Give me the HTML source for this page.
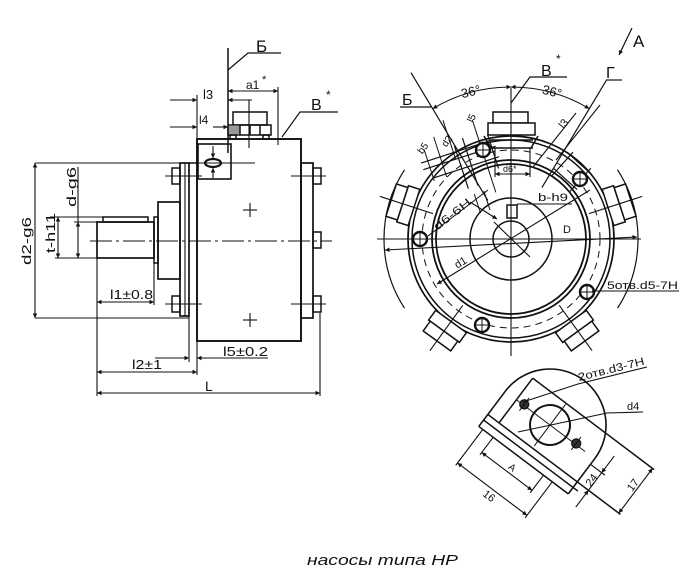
<!DOCTYPE html>
<html><head><meta charset="utf-8">
<style>
html,body{margin:0;padding:0;background:#fff;}
svg{display:block;}
text{font-family:"Liberation Sans","DejaVu Sans",sans-serif;fill:#111;stroke:none;}
</style></head><body>
<svg width="700" height="573" viewBox="0 0 700 573" xmlns="http://www.w3.org/2000/svg">
<defs>
<marker id="ar" viewBox="0 0 10 10" refX="10" refY="5" markerUnits="userSpaceOnUse" markerWidth="9" markerHeight="4.5" orient="auto-start-reverse"><path d="M0,0L10,5L0,10z" fill="#111"/></marker>
</defs>
<rect width="700" height="573" fill="#fff"/>

<!-- ================= LEFT VIEW ================= -->
<g fill="none" stroke="#111" stroke-width="1.5">
  <rect x="197" y="139" width="104" height="202" stroke-width="1.9"/>
  <rect x="198" y="144" width="33" height="35" stroke-width="1.6" fill="#fff"/>
  <ellipse cx="213" cy="163" rx="8" ry="4" stroke-width="2.2"/>
  <line x1="213" y1="146" x2="213" y2="158" stroke-width="1.1" marker-end="url(#ar)"/>
  <line x1="213" y1="178" x2="213" y2="168" stroke-width="1.1" marker-end="url(#ar)"/>
  <line x1="35" y1="163" x2="255" y2="163" stroke-width="1.1"/>
  <rect x="233" y="112" width="34" height="13"/>
  <rect x="228" y="125" width="43" height="10"/>
  <rect x="228.5" y="125.5" width="11" height="9" fill="#999" stroke="none"/>
  <line x1="240" y1="125" x2="240" y2="135"/>
  <line x1="250" y1="125" x2="250" y2="135"/>
  <line x1="260" y1="125" x2="260" y2="135"/>
  <rect x="230" y="135" width="6" height="4"/>
  <rect x="263" y="135" width="6" height="4"/>
  <line x1="249" y1="100" x2="249" y2="148" stroke-width="1.1"/>
  <line x1="228" y1="48" x2="228" y2="153"/>
  <polyline points="228,70 248,53 281,53" stroke-width="1.2"/>
  <line x1="278" y1="87" x2="278" y2="145" stroke-width="1.1"/>
  <line x1="228" y1="91" x2="278" y2="91" stroke-width="1.1" marker-start="url(#ar)" marker-end="url(#ar)"/>
  <polyline points="282,137 300,112 338,112" stroke-width="1.2"/>
  <line x1="197" y1="95" x2="197" y2="144" stroke-width="1.1"/>
  <line x1="170" y1="100" x2="197" y2="100" stroke-width="1.1" marker-end="url(#ar)"/>
  <line x1="252" y1="100" x2="228" y2="100" stroke-width="1.1" marker-end="url(#ar)"/>
  <line x1="170" y1="127" x2="197" y2="127" stroke-width="1.1" marker-end="url(#ar)"/>
  <line x1="213" y1="127" x2="228" y2="127" stroke-width="1.1" marker-end="url(#ar)"/>
  <rect x="180" y="163" width="9" height="153" stroke-width="1.7"/>
  <line x1="185" y1="163" x2="185" y2="316" stroke-width="1.1"/>
  <line x1="189" y1="163" x2="197" y2="163"/>
  <line x1="189" y1="316" x2="189" y2="362" stroke-width="1.1"/>
  <line x1="197" y1="341" x2="197" y2="375" stroke-width="1.1"/>
  <rect x="301" y="163" width="12" height="155" stroke-width="1.7"/>
  <rect x="313" y="168" width="8" height="16"/>
  <rect x="313" y="232" width="8" height="16"/>
  <rect x="313" y="296" width="8" height="16"/>
  <rect x="172" y="168" width="8" height="16"/>
  <rect x="172" y="296" width="8" height="16"/>
  <g stroke-width="1.1">
    <line x1="165" y1="176" x2="202" y2="176"/>
    <line x1="165" y1="304" x2="202" y2="304"/>
    <line x1="291" y1="176" x2="326" y2="176"/>
    <line x1="291" y1="304" x2="326" y2="304"/>
    <line x1="243" y1="210" x2="257" y2="210"/><line x1="250" y1="203" x2="250" y2="217"/>
    <line x1="243" y1="320" x2="257" y2="320"/><line x1="250" y1="313" x2="250" y2="327"/>
  </g>
  <rect x="158" y="202" width="22" height="77" stroke-width="1.7"/>
  <rect x="154" y="217" width="4" height="46"/>
  <rect x="97" y="222" width="57" height="36" stroke-width="1.7"/>
  <rect x="103" y="217" width="45" height="5"/>
  <line x1="90" y1="241" x2="332" y2="241" stroke-width="1.1" stroke-dasharray="22 4 3 4"/>
  <g stroke-width="1.1">
    <line x1="35" y1="318" x2="189" y2="318"/>
    <line x1="35" y1="163" x2="35" y2="318" marker-start="url(#ar)" marker-end="url(#ar)"/>
    <line x1="50" y1="217" x2="103" y2="217"/>
    <line x1="55" y1="258" x2="97" y2="258"/>
    <line x1="58" y1="217" x2="58" y2="258" marker-start="url(#ar)" marker-end="url(#ar)"/>
    <line x1="74" y1="222" x2="97" y2="222"/>
    <line x1="78" y1="167" x2="78" y2="222"/>
    <line x1="78" y1="222" x2="78" y2="258" marker-start="url(#ar)" marker-end="url(#ar)"/>
    <line x1="97" y1="258" x2="97" y2="396"/>
    <line x1="154" y1="263" x2="154" y2="305"/>
    <line x1="320" y1="313" x2="320" y2="396"/>
    <line x1="97" y1="302" x2="154" y2="302" marker-start="url(#ar)" marker-end="url(#ar)"/>
    <line x1="155" y1="358" x2="189" y2="358" marker-end="url(#ar)"/>
    <line x1="268" y1="358" x2="197" y2="358" marker-end="url(#ar)"/>
    <line x1="97" y1="372" x2="197" y2="372" marker-start="url(#ar)" marker-end="url(#ar)"/>
    <line x1="97" y1="393" x2="320" y2="393" marker-start="url(#ar)" marker-end="url(#ar)"/>
  </g>
</g>
<text x="256" y="52" font-size="17">Б</text>
<text x="246" y="89" font-size="12">a1</text>
<text x="262" y="83" font-size="11">*</text>
<text x="311" y="110" font-size="16">В</text>
<text x="326" y="99" font-size="12">*</text>
<text x="203" y="99" font-size="13">l3</text>
<text x="199" y="124" font-size="12">l4</text>
<text x="31" y="241" font-size="13" text-anchor="middle" textLength="48" lengthAdjust="spacingAndGlyphs" transform="rotate(-90 31 241)">d2-g6</text>
<text x="55" y="233" font-size="13" text-anchor="middle" textLength="40" lengthAdjust="spacingAndGlyphs" transform="rotate(-90 55 233)">t-h11</text>
<text x="76" y="187" font-size="13" text-anchor="middle" textLength="40" lengthAdjust="spacingAndGlyphs" transform="rotate(-90 76 187)">d-g6</text>
<text x="110" y="299" font-size="13" textLength="43" lengthAdjust="spacingAndGlyphs">l1±0.8</text>
<text x="223" y="356" font-size="13" textLength="45" lengthAdjust="spacingAndGlyphs">l5±0.2</text>
<text x="132" y="369" font-size="13" textLength="30" lengthAdjust="spacingAndGlyphs">l2±1</text>
<text x="205" y="391" font-size="14">L</text>

<!-- ================= RIGHT (FRONT) VIEW ================= -->
<g fill="none" stroke="#111" stroke-width="1.5">
  <circle cx="511" cy="239" r="18"/>
  <circle cx="511" cy="239" r="41"/>
  <circle cx="511" cy="239" r="75" stroke-width="1.8"/>
  <circle cx="511" cy="239" r="79" stroke-width="1.8"/>
  <circle cx="511" cy="239" r="89" stroke-width="1" stroke-dasharray="7 5"/>
  <circle cx="511" cy="239" r="99"/>
  <circle cx="511" cy="239" r="103" stroke-width="1.7"/>
  <path d="M404.5,169.8 A127,127 0 0 0 404.5,308.2" stroke-width="1.2"/>
  <path d="M617.5,169.8 A127,127 0 0 1 617.5,308.2" stroke-width="1.2"/>

  <g transform="rotate(72 511 239)">
    <rect x="492" y="125" width="38" height="12" fill="#fff"/>
    <rect x="494" y="113" width="34" height="12" fill="#fff"/>
    <line x1="511" y1="101" x2="511" y2="157" stroke-width="1.1"/>
  </g>
  <g transform="rotate(-72 511 239)">
    <rect x="492" y="125" width="38" height="12" fill="#fff"/>
    <rect x="494" y="113" width="34" height="12" fill="#fff"/>
    <line x1="511" y1="101" x2="511" y2="157" stroke-width="1.1"/>
  </g>
  <g transform="rotate(144 511 239)">
    <rect x="492" y="125" width="38" height="12" fill="#fff"/>
    <rect x="494" y="113" width="34" height="12" fill="#fff"/>
    <line x1="511" y1="101" x2="511" y2="157" stroke-width="1.1"/>
  </g>
  <g transform="rotate(-144 511 239)">
    <rect x="492" y="125" width="38" height="12" fill="#fff"/>
    <rect x="494" y="113" width="34" height="12" fill="#fff"/>
    <line x1="511" y1="101" x2="511" y2="157" stroke-width="1.1"/>
  </g>

  <rect x="493" y="112" width="35" height="11" fill="#fff"/>
  <rect x="488" y="123" width="47" height="12" fill="#fff"/>
  <line x1="490" y1="140" x2="533" y2="140"/>
  <line x1="490" y1="148" x2="533" y2="148"/>
  <line x1="484" y1="136" x2="491" y2="148"/>
  <line x1="538" y1="136" x2="531" y2="148"/>
  <line x1="495" y1="148" x2="495" y2="177" stroke-width="1.1"/>
  <line x1="530" y1="148" x2="530" y2="177" stroke-width="1.1"/>
  <line x1="495" y1="174" x2="530" y2="174" stroke-width="1" marker-start="url(#ar)" marker-end="url(#ar)"/>

  <line x1="511" y1="88" x2="511" y2="356" stroke-width="1.1"/>
  <line x1="377" y1="239" x2="641" y2="239" stroke-width="1.1"/>

  <rect x="507" y="205" width="10" height="13"/>
  <line x1="437" y1="284" x2="590" y2="190" stroke-width="1.1" marker-start="url(#ar)"/>
  <line x1="494" y1="222" x2="530" y2="257" stroke-width="1.1"/>
  <line x1="517" y1="204" x2="572" y2="204" stroke-width="1.1"/>
  <line x1="385" y1="250" x2="637" y2="237" stroke-width="1.1" marker-start="url(#ar)" marker-end="url(#ar)"/>
  <line x1="428" y1="236" x2="488" y2="190" stroke-width="1.1"/>
  <line x1="470" y1="202" x2="497" y2="219" stroke-width="1.1" marker-end="url(#ar)"/>

  <g transform="rotate(-18 511 239)" stroke-width="1.2">
    <line x1="449" y1="139" x2="525" y2="139"/>
    <line x1="449" y1="146" x2="525" y2="146"/>
    <line x1="455" y1="157" x2="525" y2="157"/>
    <line x1="496" y1="128" x2="496" y2="178"/>
    <line x1="486" y1="133" x2="486" y2="178"/>
    <line x1="521" y1="132" x2="521" y2="168"/>
    <line x1="511" y1="114" x2="511" y2="190" stroke-width="1"/>
    <line x1="456" y1="127" x2="456" y2="160" stroke-width="1"/>
    <line x1="469" y1="118" x2="469" y2="160" stroke-width="1"/>
    <line x1="483" y1="105" x2="483" y2="146" stroke-width="1"/>
    <line x1="490" y1="185" x2="490" y2="205" stroke-width="1"/>
    <line x1="500" y1="185" x2="500" y2="205" stroke-width="1"/>
  </g>
  <g transform="rotate(42 511 239)" stroke-width="1.2">
    <line x1="499" y1="133" x2="499" y2="164"/>
    <line x1="523" y1="133" x2="523" y2="164"/>
    <line x1="495" y1="137" x2="527" y2="137"/>
    <line x1="495" y1="158" x2="527" y2="158"/>
  </g>
  <line x1="533" y1="167" x2="576" y2="113" stroke-width="1.1"/>
  <line x1="556" y1="160" x2="600" y2="105" stroke-width="1.1"/>

  <g stroke-width="2.4" fill="#fff">
    <circle cx="420" cy="239" r="7"/>
    <circle cx="483" cy="150" r="7"/>
    <circle cx="580" cy="179" r="7"/>
    <circle cx="587" cy="292" r="7"/>
    <circle cx="482" cy="325" r="7"/>
  </g>
  <g stroke-width="1">
    <line x1="414" y1="239" x2="426" y2="239"/><line x1="420" y1="233" x2="420" y2="245"/>
    <line x1="477" y1="150" x2="489" y2="150"/><line x1="483" y1="144" x2="483" y2="156"/>
    <line x1="574" y1="179" x2="586" y2="179"/><line x1="580" y1="173" x2="580" y2="185"/>
    <line x1="581" y1="292" x2="593" y2="292"/><line x1="587" y1="286" x2="587" y2="298"/>
    <line x1="476" y1="325" x2="488" y2="325"/><line x1="482" y1="319" x2="482" y2="331"/>
  </g>
  <line x1="592" y1="291" x2="679" y2="291" stroke-width="1.1"/>

  <line x1="487.8" y1="200.4" x2="411" y2="72.7" stroke-width="1.2"/>
  <line x1="400" y1="107" x2="431" y2="107" stroke-width="1.2"/>
  <line x1="541.9" y1="187.6" x2="606.3" y2="80.4" stroke-width="1.2"/>
  <line x1="606" y1="80" x2="622" y2="80" stroke-width="1.2"/>
  <line x1="632" y1="28" x2="619" y2="55" stroke-width="1.2" marker-end="url(#ar)"/>
  <path d="M432.7,108.7 A152,152 0 0 1 511,87" stroke-width="1.1" marker-start="url(#ar)" marker-end="url(#ar)"/>
  <path d="M511,87 A152,152 0 0 1 589.3,108.7" stroke-width="1.1" marker-start="url(#ar)" marker-end="url(#ar)"/>
  <polyline points="511,103 530,77 567,77" stroke-width="1.2"/>
</g>
<text x="402" y="105" font-size="16">Б</text>
<text x="606" y="78" font-size="16">Г</text>
<text x="633" y="47" font-size="17">A</text>
<text x="541" y="76" font-size="16">В</text>
<text x="556" y="63" font-size="12">*</text>
<text x="471" y="96" font-size="13" text-anchor="middle" transform="rotate(-14 471 92)">36°</text>
<text x="552" y="96" font-size="13" text-anchor="middle" transform="rotate(14 552 92)">36°</text>
<text x="503" y="172" font-size="9">d6*</text>
<text x="538" y="201" font-size="11" textLength="30" lengthAdjust="spacingAndGlyphs">b-h9</text>
<text x="563" y="233" font-size="11">D</text>
<text x="461" y="266" font-size="11" text-anchor="middle" transform="rotate(-31 461 263)">d1</text>
<text x="452" y="218" font-size="11" text-anchor="middle" textLength="44" lengthAdjust="spacingAndGlyphs" transform="rotate(-38 452 214)">d6-6H</text>
<text x="607" y="289" font-size="11" textLength="71" lengthAdjust="spacingAndGlyphs">5отв.d5-7H</text>
<text x="424" y="153" font-size="10" text-anchor="middle" transform="rotate(-55 422 150)">b5</text>
<text x="448" y="146" font-size="10" text-anchor="middle" transform="rotate(-55 446 143)">d2</text>
<text x="473" y="123" font-size="10" text-anchor="middle" transform="rotate(-65 471 120)">l5</text>
<text x="564" y="129" font-size="11" text-anchor="middle" transform="rotate(-52 562 125)">l3</text>

<!-- ================= BOTTOM DETAIL ================= -->
<g transform="translate(550,425) rotate(37)" fill="none" stroke="#111" stroke-width="1.5">
  <path d="M-56,44 L-56,0 A56,56 0 0 1 56,0 L56,44" stroke-width="1.6"/>
  <line x1="-42" y1="-27" x2="110" y2="-27"/>
  <line x1="-42" y1="-27" x2="-42" y2="29"/>
  <line x1="-56" y1="29" x2="110" y2="29"/>
  <line x1="-56" y1="36" x2="62" y2="36"/>
  <line x1="-56" y1="44" x2="56" y2="44"/>
  <circle cx="0" cy="0" r="20" stroke-width="2"/>
  <line x1="-42" y1="0" x2="44" y2="0" stroke-width="1"/>
  <line x1="0" y1="-26" x2="0" y2="26" stroke-width="1"/>
  <circle cx="-33" cy="-1" r="4.5" fill="#333" stroke-width="1.3"/>
  <circle cx="32" cy="-1" r="4.5" fill="#333" stroke-width="1.3"/>
  <line x1="-33" y1="-9" x2="-33" y2="7" stroke-width="1"/>
  <line x1="32" y1="-9" x2="32" y2="7" stroke-width="1"/>
  <line x1="-38" y1="44" x2="-38" y2="66" stroke-width="1.1"/>
  <line x1="25" y1="44" x2="25" y2="66" stroke-width="1.1"/>
  <line x1="-38" y1="63" x2="25" y2="63" stroke-width="1.1" marker-start="url(#ar)" marker-end="url(#ar)"/>
  <line x1="-51" y1="44" x2="-51" y2="89" stroke-width="1.1"/>
  <line x1="36" y1="44" x2="36" y2="89" stroke-width="1.1"/>
  <line x1="-51" y1="86" x2="36" y2="86" stroke-width="1.1" marker-start="url(#ar)" marker-end="url(#ar)"/>
  <line x1="56" y1="7" x2="74" y2="7" stroke-width="1.1"/>
  <line x1="70" y1="-14" x2="70" y2="7" stroke-width="1.1" marker-end="url(#ar)"/>
  <line x1="70" y1="7" x2="70" y2="29" stroke-width="1.1"/>
  <line x1="70" y1="50" x2="70" y2="29" stroke-width="1.1" marker-end="url(#ar)"/>
  <line x1="108" y1="-27" x2="108" y2="29" stroke-width="1.1" marker-start="url(#ar)" marker-end="url(#ar)"/>
  <text x="-8" y="60" font-size="10">A</text>
  <text x="-12" y="97" font-size="11">16</text>
  <text x="66" y="23" font-size="11" text-anchor="middle" transform="rotate(-90 66 19)">24</text>
  <text x="104" y="4" font-size="11" text-anchor="middle" transform="rotate(-90 102 0)">17</text>
</g>
<g fill="none" stroke="#111" stroke-width="1.1">
  <polyline points="523,402 578,384 647,367"/>
  <polyline points="518,432 607,413 643,412"/>
</g>
<text x="579" y="381" font-size="11" textLength="68" lengthAdjust="spacingAndGlyphs" transform="rotate(-14 579 381)">2отв.d3-7H</text>
<text x="627" y="410" font-size="11">d4</text>

<text x="307" y="565" font-size="15" font-style="italic" textLength="151" lengthAdjust="spacingAndGlyphs">насосы типа HP</text>
</svg>
</body></html>
